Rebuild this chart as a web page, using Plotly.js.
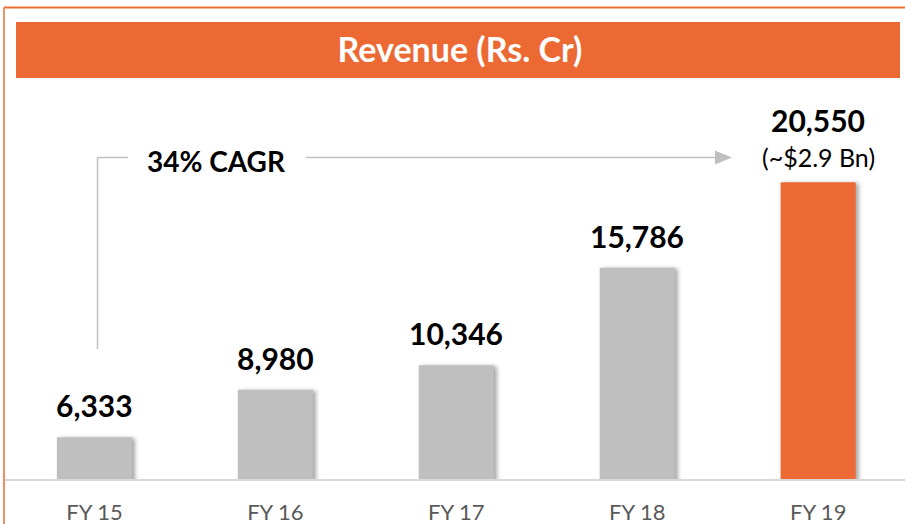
<!DOCTYPE html>
<html>
<head>
<meta charset="utf-8">
<script src="https://cdn.plot.ly/plotly-3.0.1.min.js"></script>
<style>
html,body{margin:0;padding:0;background:#fff;}
#chart{width:905px;height:524px;}
</style>
</head>
<body>
<div id="chart"></div>
<script>
// ---- data ----
const categories = ['FY 15', 'FY 16', 'FY 17', 'FY 18', 'FY 19'];
const revenue = [6333, 8980, 10346, 15786, 20550];
const valueLabels = ['6,333', '8,980', '10,346', '15,786', '20,550'];
const notes = ['', '', '', '', '(~$2.9 Bn)'];
const barColors = ['#BFBFBF', '#BFBFBF', '#BFBFBF', '#BFBFBF', '#ED6A35'];
const chartTitle = 'Revenue (Rs. Cr)';
const cagrLabel = '34% CAGR';

// ---- layout helpers (pixel -> paper) ----
const W = 905, H = 524;
const M = {l: 4, r: 0, t: 80, b: 45};
const PW = W - M.l - M.r, PH = H - M.t - M.b;
const px = x => (x - M.l) / PW;
const py = y => (H - M.b - y) / PH;

const FONT = 'Lato, "Open Sans", sans-serif';
const lineGray = '#BFBFBF';
const orange = '#ED6A35';

const trace = {
  type: 'bar',
  x: categories,
  y: revenue,
  width: 0.415,
  marker: {color: barColors, line: {width: 0}},
  hoverinfo: 'skip'
};

const annotations = [];
categories.forEach((c, i) => {
  const hasNote = notes[i] !== '';
  annotations.push({
    x: c, y: revenue[i], xref: 'x', yref: 'y',
    text: '<b>' + valueLabels[i] + '</b>',
    showarrow: false, yanchor: 'bottom',
    yshift: hasNote ? 42 : 12,
    font: {family: FONT, size: 30, color: '#000'}
  });
  if (hasNote) {
    annotations.push({
      x: c, y: revenue[i], xref: 'x', yref: 'y',
      text: notes[i],
      showarrow: false, yanchor: 'bottom',
      yshift: 8,
      font: {family: FONT, size: 25, color: '#000'}
    });
  }
});
// CAGR label
annotations.push({
  x: px(216), y: py(161), xref: 'paper', yref: 'paper',
  text: '<b>' + cagrLabel + '</b>', showarrow: false,
  xanchor: 'center', yanchor: 'middle',
  font: {family: FONT, size: 28, color: '#000'}
});

const shapes = [
  // outer orange frame (top & left)
  {type: 'line', xref: 'paper', yref: 'paper', x0: px(4), x1: px(905), y0: py(7.5), y1: py(7.5), line: {color: orange, width: 2}},
  {type: 'line', xref: 'paper', yref: 'paper', x0: px(4), x1: px(4), y0: py(7.5), y1: py(524), line: {color: orange, width: 1.5}},
  // title banner
  {type: 'rect', xref: 'paper', yref: 'paper', x0: px(16), x1: px(900), y0: py(78), y1: py(22), fillcolor: '#EC6934', line: {width: 0}, layer: 'below'},
  // CAGR bracket
  {type: 'line', xref: 'paper', yref: 'paper', x0: px(97.5), x1: px(97.5), y0: py(349), y1: py(157.5), line: {color: lineGray, width: 1.5}},
  {type: 'line', xref: 'paper', yref: 'paper', x0: px(97.5), x1: px(128), y0: py(157.5), y1: py(157.5), line: {color: lineGray, width: 1.5}},
  {type: 'line', xref: 'paper', yref: 'paper', x0: px(306), x1: px(716), y0: py(157.5), y1: py(157.5), line: {color: lineGray, width: 1.5}},
  {type: 'path', xref: 'paper', yref: 'paper',
   path: 'M ' + px(715) + ',' + py(150.5) + ' L ' + px(732) + ',' + py(157.5) + ' L ' + px(715) + ',' + py(164.5) + ' Z',
   fillcolor: lineGray, line: {width: 0}}
];

const layout = {
  width: W, height: H,
  margin: M,
  paper_bgcolor: '#fff', plot_bgcolor: 'rgba(0,0,0,0)',
  showlegend: false,
  title: {
    text: '<b>' + chartTitle + '</b>',
    x: 458 / W, xanchor: 'center', xref: 'paper',
    y: 1 - 50 / H, yanchor: 'middle', yref: 'container',
    font: {family: FONT, size: 34, color: '#fff'}
  },
  xaxis: {
    type: 'category', range: [-0.5, 4.48],
    showline: true, linecolor: '#D9D9D9', linewidth: 2,
    ticks: '', showgrid: false, zeroline: false,
    tickfont: {family: FONT, size: 22, color: '#595959'},
    ticklabelstandoff: 13,
    fixedrange: true
  },
  yaxis: {
    range: [4000, 4000 + PH / 0.017927],
    showgrid: false, zeroline: false, showticklabels: false,
    showline: false, ticks: '', fixedrange: true
  },
  annotations: annotations,
  shapes: shapes,
  bargap: 0.5
};

Plotly.newPlot('chart', [trace], layout, {displayModeBar: false, staticPlot: true}).then(() => {
  document.querySelectorAll('#chart .trace.bars .point path').forEach(p => {
    p.style.filter = 'drop-shadow(3px 1px 2px rgba(0,0,0,0.35))';
  });
});
</script>
</body>
</html>
